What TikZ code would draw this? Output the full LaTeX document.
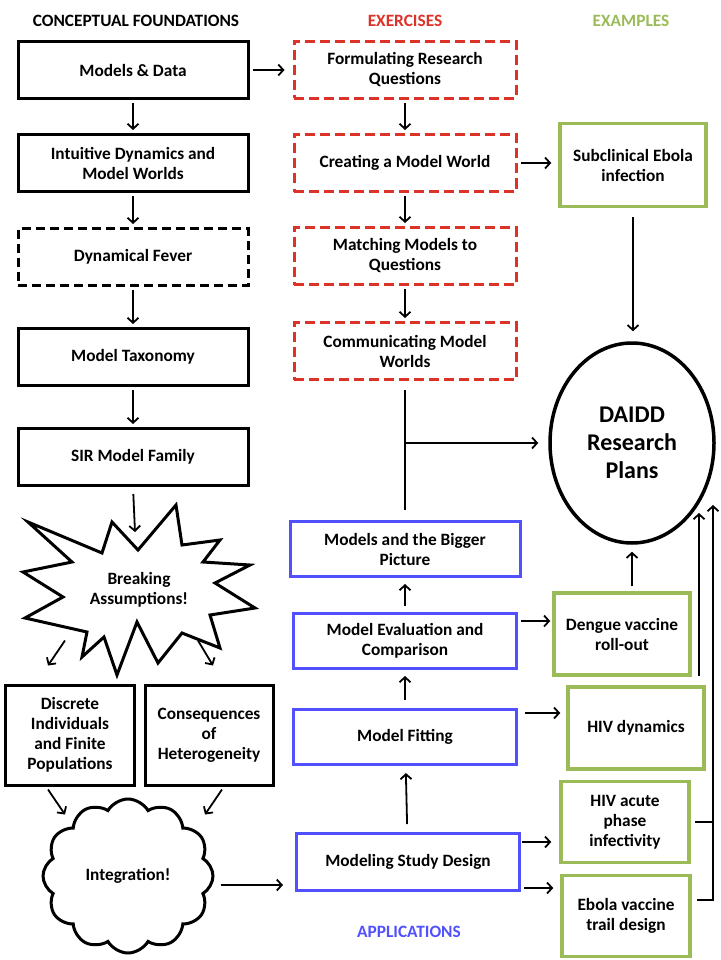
\documentclass[tikz,border=0pt]{standalone}
\usepackage{fontspec}
\setmainfont{Carlito}
\usetikzlibrary{positioning, arrows.meta, shapes.geometric, shapes.symbols}
\definecolor{rojo}{RGB}{221,50,40}
\definecolor{azul}{RGB}{80,80,255}
\definecolor{verde}{RGB}{155,187,89}
\tikzset{
	x=1pt, y=-1pt, % Coordenadas en pixeles, y hacia abajo
	>={Straight Barb[length=5pt,width=11pt]}, % Punta de flecha abierta
	flecha/.style={->, line width=1.8pt, shorten <=3pt, shorten >=3pt}, % Conectores
	caja/.style={draw, line width=3pt, align=center, inner sep=0pt,
		font=\fontsize{17.3}{20}\selectfont\bfseries}, % Propiedades comunes de las cajas
	foundation/.style={caja, minimum width=230pt, minimum height=57pt},
	exercise/.style={caja, draw=rojo, dash pattern=on 10pt off 5pt, minimum width=222pt, minimum height=57pt},
	application/.style={caja, draw=azul, minimum width=223pt, minimum height=55pt},
	example/.style={caja, draw=verde, line width=3.5pt, minimum width=136pt, minimum height=82pt},
	heading/.style={font=\fontsize{17.3}{20}\selectfont\bfseries} % Titulos de columna
}

\begin{document}
\begin{tikzpicture}
	\useasboundingbox (0,0) rectangle (720,960);
	% titulos
	\node[heading] (tconcept) at (136,21) {CONCEPTUAL FOUNDATIONS};
	\node[heading, text=rojo] (texercise) at (405,21) {EXERCISES};
	\node[heading, text=verde] (texample) at (631,21) {EXAMPLES};
	\node[heading, text=azul] (tapplication) at (409,932) {APPLICATIONS};
	% fundamentos
	\node[foundation] (models) at (133,70) {Models \& Data};
	\node[foundation, below=33pt of models] (intuitive) {Intuitive Dynamics and\\Model Worlds};
	\node[foundation, dash pattern=on 9pt off 5pt, below=34pt of intuitive] (fever) {Dynamical Fever};
	\node[foundation, below=40pt of fever] (taxonomy) {Model Taxonomy};
	\node[foundation, below=40pt of taxonomy] (sir) {SIR Model Family};
	% estrella
	\draw[line width=3pt, line join=miter] (28,522) -- (102,553) -- (112,522) -- (138,550) -- (176,505)
		-- (182,545) -- (220,540) -- (203,562) -- (250,565) -- (215,583) -- (255,608) -- (210,615)
		-- (220,648) -- (182,633) -- (158,663) -- (137,622) -- (117,675) -- (104,637) -- (82,657)
		-- (87,632) -- (25,618) -- (63,597) -- (23,572) -- (72,562) -- cycle;
	\node[caja, draw=none] (breaking) at (139,590) {Breaking\\Assumptions!};
	\node[caja, minimum width=129pt, minimum height=100pt] (discrete) at (70,735) {Discrete\\Individuals\\and Finite\\Populations};
	\node[caja, minimum width=128pt, minimum height=100pt] (hetero) at (209,735) {Consequences\\of\\Heterogeneity};
	\node[draw, line width=3pt, cloud, cloud puffs=12, cloud puff arc=120, aspect=1.1,
		minimum width=170pt, minimum height=154pt, font=\fontsize{17.3}{20}\selectfont\bfseries]
		(integration) at (128,876) {Integration!};
	% ejercicios
	\node[exercise] (formulating) at (405,70) {Formulating Research\\Questions};
	\node[exercise, below=33pt of formulating] (creating) {Creating a Model World};
	\node[exercise, below=33pt of creating] (matching) {Matching Models to\\Questions};
	\node[exercise, below=35pt of matching] (communicating) {Communicating Model\\Worlds};
	% aplicaciones
	\node[application, minimum width=230pt] (bigger) at (405,549) {Models and the Bigger\\Picture};
	\node[application] (evaluation) at (405,641) {Model Evaluation and\\Comparison};
	\node[application] (fitting) at (405,737) {Model Fitting};
	\node[application, minimum height=57pt] (design) at (408,862) {Modeling Study Design};
	% ejemplos
	\node[example, minimum width=146pt, minimum height=83pt] (subclinical) at (633,165) {Subclinical Ebola\\infection};
	\node[example] (dengue) at (622,634) {Dengue vaccine\\roll-out};
	\node[example] (hivdyn) at (636,728) {HIV dynamics};
	\node[example, minimum width=128pt, minimum height=81pt] (hivacute) at (625,822) {HIV acute\\phase\\infectivity};
	\node[example, minimum width=128pt, minimum height=81pt] (ebolatrial) at (626,916) {Ebola vaccine\\trail design};
	\node[draw, ellipse, line width=3.5pt, minimum width=164pt, minimum height=200pt, align=center,
		font=\fontsize{24}{28}\selectfont\bfseries] (daidd) at (632,443) {DAIDD\\Research\\Plans};
	\coordinate (sirend) at (135,532);
	\coordinate (busA) at (699,513);
	\coordinate (busB) at (713,505);
	\coordinate (junction) at (communicating.south |- daidd.west);

	\path[flecha] (models) edge (intuitive)
			(intuitive) edge (fever)
			(fever) edge (taxonomy)
			(taxonomy) edge (sir)
			(sir.south) edge[shorten <=7pt, shorten >=0pt] (sirend)
			(formulating) edge (creating)
			(creating) edge (matching)
			(matching) edge (communicating)
			(models) edge[shorten >=8pt] (formulating)
			(creating.east) edge[shorten >=7pt] (creating.east -| subclinical.west)
			(subclinical.south) edge[shorten <=9pt, shorten >=10pt] (subclinical.south |- daidd.north)
			(junction) edge[shorten <=0pt, shorten >=10pt] (daidd.west)
			(evaluation) edge[shorten <=6pt, shorten >=6pt] (bigger)
			(fitting) edge[shorten <=8pt, shorten >=6pt] (evaluation)
			(design) edge[shorten <=8pt, shorten >=7pt] (fitting)
			([yshift=20pt]evaluation.east) edge[shorten >=2pt] ([yshift=20pt]evaluation.east -| dengue.west)
			([yshift=24pt]fitting.east) edge[shorten <=7pt, shorten >=6pt] ([yshift=24pt]fitting.east -| hivdyn.west)
			([yshift=20pt]design.east) edge[shorten <=1pt, shorten >=8pt] ([yshift=20pt]design.east -| hivacute.west)
			([yshift=-26pt]design.east) edge[shorten >=7pt] ([yshift=-26pt]design.east -| ebolatrial.west)
			(dengue.north -| daidd.south) edge[shorten <=5pt, shorten >=7pt] (daidd.south)
			(hivdyn.north -| busA) edge[shorten <=9pt, shorten >=0pt] (busA)
			([yshift=-9pt]integration.east) edge[shorten <=6pt, shorten >=12pt] ([yshift=-9pt]integration.east -| design.west)
			([xshift=-5pt,yshift=43pt]discrete.north) edge[shorten <=0pt, shorten >=0pt] ([xshift=-22pt,yshift=18pt]discrete.north)
			([xshift=-11pt,yshift=43pt]hetero.north) edge[shorten <=0pt, shorten >=0pt] ([xshift=4pt,yshift=18pt]hetero.north)
			([xshift=-22pt,yshift=-3pt]discrete.south) edge[shorten <=0pt, shorten >=0pt] ([xshift=-5pt,yshift=-28pt]discrete.south)
			([xshift=13pt,yshift=-3pt]hetero.south) edge[shorten <=0pt, shorten >=0pt] ([xshift=-4pt,yshift=-28pt]hetero.south)
			;
	\draw[line width=1.8pt, shorten <=9pt, shorten >=10pt] (communicating.south) -- (bigger.north);
	\draw[line width=1.8pt] ([xshift=4pt]hivacute.east) -- (hivacute.east -| busB);
	\draw[line width=1.8pt, ->] ([xshift=5pt,yshift=16pt]ebolatrial.east) -- ([yshift=16pt]ebolatrial.east -| busB) -- (busB);
\end{tikzpicture}
\end{document}
